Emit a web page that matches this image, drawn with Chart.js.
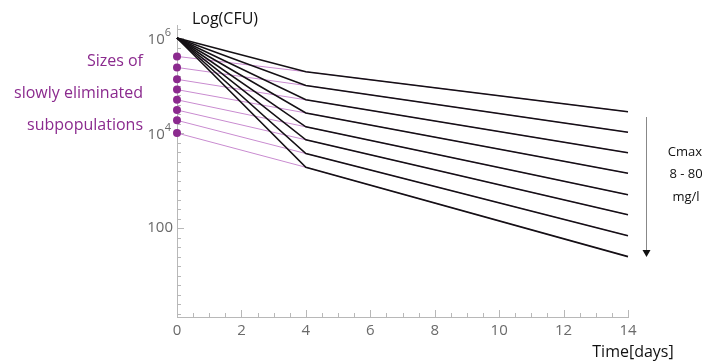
<!DOCTYPE html>
<html>
<head>
<meta charset="utf-8">
<script src="https://cdn.jsdelivr.net/npm/chart.js@4"></script>
<style>
  html, body { margin: 0; padding: 0; background: #fff; }
</style>
</head>
<body>
<canvas id="killChart" width="705" height="364"></canvas>
<script>
// sampling days of the simulated kill curves
var days = [0, 4, 14];
// total inoculum at t = 0 (CFU)
var startCFU = 1e6;
// slowly eliminated subpopulation at t = 0, one per Cmax level (CFU)
var slowStart = [4.1e5, 2.4e5, 1.35e5, 8.2e4, 5.0e4, 3.05e4, 1.85e4, 1.0e4];
// CFU at day 4 and day 14 (fast part gone by day 4)
var cfuDay4 = [1.95e5, 1.0e5, 5.0e4, 2.65e4, 1.35e4, 7.2e3, 3.7e3, 1.9e3];
var cfuDay14 = [2.8e4, 1.04e4, 3.85e3, 1.42e3, 500, 190, 69, 25];

// labelled y ticks: base text and exponent (empty = plain number)
var yLabelValues = [100, 1e4, 1e6];
var yLabelBase = ['100', '10', '10'];
var yLabelExp = ['', '4', '6'];
var xLabelValues = [0, 2, 4, 6, 8, 10, 12, 14];

var purple = '#8b2a8e';
var axisGrey = '#b8b8b8';
var labelGrey = '#6a6a6a';

Chart.defaults.font.family = "'Open Sans', sans-serif";

var datasets = [];
for (var i = 0; i < slowStart.length; i++) {
  datasets.push({
    label: 'slow ' + (i + 1),
    data: [
      { x: days[0], y: slowStart[i] },
      { x: days[1], y: cfuDay4[i] },
      { x: days[2], y: cfuDay14[i] }
    ],
    borderColor: '#c98bd0',
    borderWidth: 1,
    pointRadius: function (c) { return c.dataIndex === 0 ? 4 : 0; },
    pointBackgroundColor: purple,
    pointBorderWidth: 0,
    clip: false,
    order: 2
  });
}
for (var j = 0; j < cfuDay4.length; j++) {
  datasets.push({
    label: 'total ' + (j + 1),
    data: [
      { x: days[0], y: startCFU },
      { x: days[1], y: cfuDay4[j] },
      { x: days[2], y: cfuDay14[j] }
    ],
    borderColor: '#141014',
    borderWidth: 1.6,
    pointRadius: 0,
    clip: false,
    order: 1
  });
}

function labelIndex(v) {
  for (var k = 0; k < yLabelValues.length; k++) {
    if (Math.abs(Math.log10(v) - Math.log10(yLabelValues[k])) < 1e-6) return k;
  }
  return -1;
}

// small inward tick marks on both axes, plus y labels with raised exponents
var innerTicks = {
  id: 'innerTicks',
  beforeDatasetsDraw: function (chart) {
    var ctx = chart.ctx, xs = chart.scales.x, ys = chart.scales.y, a = chart.chartArea;
    ctx.save();
    ctx.strokeStyle = axisGrey;
    ctx.lineWidth = 1;
    ctx.beginPath();
    ys.ticks.forEach(function (t) {
      var y = Math.round(ys.getPixelForValue(t.value)) + 0.5;
      var len = labelIndex(t.value) >= 0 ? 7 : 4;
      ctx.moveTo(a.left, y);
      ctx.lineTo(a.left + len, y);
    });
    xs.ticks.forEach(function (t) {
      var x = Math.round(xs.getPixelForValue(t.value)) + 0.5;
      var len = (t.value % 2 === 0) ? 7 : 4;
      ctx.moveTo(x, a.bottom);
      ctx.lineTo(x, a.bottom - len);
    });
    ctx.stroke();

    ctx.fillStyle = labelGrey;
    ctx.textAlign = 'right';
    ctx.textBaseline = 'middle';
    ys.ticks.forEach(function (t) {
      var k = labelIndex(t.value);
      if (k < 0) return;
      var y = ys.getPixelForValue(t.value);
      var right = a.left - 4;
      if (yLabelExp[k]) {
        right -= 2;
        ctx.font = "11px 'Open Sans', sans-serif";
        ctx.fillText(yLabelExp[k], right, y - 5);
        right -= ctx.measureText(yLabelExp[k]).width;
        ctx.font = "15px 'Open Sans', sans-serif";
        ctx.fillText(yLabelBase[k], right, y + 2);
      } else {
        ctx.font = "15px 'Open Sans', sans-serif";
        ctx.fillText(yLabelBase[k], right, y);
      }
    });
    ctx.restore();
  }
};

// axis titles, side captions and the Cmax arrow
var captions = {
  id: 'captions',
  afterDraw: function (chart) {
    var ctx = chart.ctx;
    ctx.save();
    ctx.fillStyle = '#111';
    ctx.font = "16px 'Open Sans', sans-serif";
    ctx.textBaseline = 'middle';
    ctx.textAlign = 'center';
    ctx.fillText('Log(CFU)', 225, 19);
    ctx.fillText('Time[days]', 633, 352);

    ctx.fillStyle = purple;
    ctx.textAlign = 'right';
    ctx.fillText('Sizes of', 143, 61);
    ctx.fillText('slowly eliminated', 143, 93);
    ctx.fillText('subpopulations', 143, 125);

    ctx.fillStyle = '#111';
    ctx.textAlign = 'center';
    ctx.font = "13px 'Open Sans', sans-serif";
    ctx.fillText('Cmax', 685, 152);
    ctx.fillText('8 - 80', 686, 174);
    ctx.fillText('mg/l', 686, 197);

    ctx.strokeStyle = '#888';
    ctx.lineWidth = 1;
    ctx.beginPath();
    ctx.moveTo(646.5, 117);
    ctx.lineTo(646.5, 251);
    ctx.stroke();
    ctx.fillStyle = '#111';
    ctx.beginPath();
    ctx.moveTo(642.5, 250);
    ctx.lineTo(650.5, 250);
    ctx.lineTo(646.5, 257);
    ctx.closePath();
    ctx.fill();
    ctx.restore();
  }
};

new Chart(document.getElementById('killChart').getContext('2d'), {
  type: 'line',
  data: { datasets: datasets },
  options: {
    responsive: false,
    animation: false,
    devicePixelRatio: 1,
    layout: { padding: { top: 25, right: 77, bottom: 0, left: 0 } },
    plugins: { legend: { display: false }, tooltip: { enabled: false } },
    scales: {
      x: {
        type: 'linear',
        min: 0,
        max: 14,
        afterBuildTicks: function (s) {
          var t = [];
          for (var d = 0; d <= 28; d++) t.push({ value: d / 2 });
          s.ticks = t;
        },
        afterFit: function (s) { s.height = 47; },
        grid: { drawOnChartArea: false, drawTicks: false },
        border: { color: axisGrey },
        ticks: {
          autoSkip: false,
          maxRotation: 0,
          padding: 5,
          color: labelGrey,
          font: { size: 15 },
          callback: function (v) { return xLabelValues.indexOf(v) >= 0 ? String(v) : ''; }
        }
      },
      y: {
        type: 'logarithmic',
        min: 1.34,
        max: 1.88e6,
        afterBuildTicks: function (s) {
          var t = [];
          for (var k = 1; k <= 31; k++) t.push({ value: Math.pow(10, k / 5) });
          s.ticks = t;
        },
        afterFit: function (s) { s.width = 177; },
        grid: { drawOnChartArea: false, drawTicks: false },
        border: { color: axisGrey },
        ticks: { display: false }
      }
    }
  },
  plugins: [innerTicks, captions]
});
</script>
</body>
</html>
